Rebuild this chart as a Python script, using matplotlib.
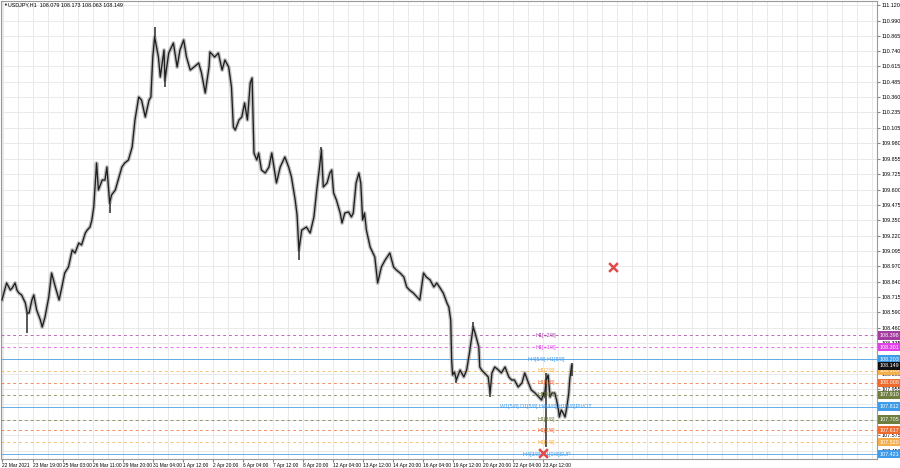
import matplotlib
matplotlib.use("Agg")
import matplotlib.pyplot as plt
import matplotlib.transforms as mtransforms

# USDJPY H1 closes (bar index = hours since first bar)
bars = [0, 3, 5, 9, 11, 14, 16, 18, 21, 25, 27, 29, 32, 34, 37, 41, 43, 46, 50, 53,
        57, 61, 64, 67, 71, 75, 78, 82, 85, 89, 91, 94, 96, 98, 101, 103, 107, 110, 112, 115,
        117, 121, 125, 128, 131, 135, 139, 142, 146, 149, 153, 157, 159, 161, 163, 167, 169, 173, 174, 178,
        183, 187, 190, 194, 197, 201, 205, 210, 213, 217, 221, 222, 227, 231, 235, 238, 242, 245, 247, 249,
        253, 256, 259, 262, 265, 267, 269, 272, 274, 277, 281, 285, 288, 293, 297, 302, 306, 309, 313, 315,
        317, 320, 325, 329, 333, 336, 339, 341, 343, 347, 350, 352, 354, 357, 361, 363, 366, 370, 373, 375,
        378, 381, 383, 385, 387, 389, 393, 396, 398, 401, 405, 409, 414, 418, 421, 425, 429, 432, 435, 439,
        443, 446, 450, 453, 457, 461, 464, 467, 471, 475, 477, 479, 480, 481, 483, 485, 489, 493, 496, 499,
        503, 505, 507, 509, 510, 512, 515, 519, 521, 523, 526, 530, 533, 537, 541, 544, 547, 551, 555, 558,
        562, 565, 569, 573, 576, 578, 579, 581, 583, 585, 587, 590, 592, 594, 595, 597, 599, 601, 603, 605,
        606, 607, 608]
closes = [108.690, 108.772, 108.830, 108.772, 108.789, 108.830, 108.772, 108.748, 108.731, 108.665,
          108.583, 108.583, 108.690, 108.731, 108.608, 108.525, 108.467, 108.550, 108.715, 108.912,
          108.797, 108.690, 108.797, 108.912, 108.962, 109.102, 109.077, 109.159, 109.143, 109.242,
          109.266, 109.291, 109.349, 109.456, 109.818, 109.596, 109.678, 109.678, 109.785, 109.489,
          109.555, 109.596, 109.703, 109.785, 109.818, 109.843, 109.950, 110.173, 110.362, 110.337,
          110.197, 110.337, 110.362, 110.691, 110.856, 110.691, 110.527, 110.749, 110.502, 110.724,
          110.807, 110.609, 110.749, 110.832, 110.691, 110.584, 110.609, 110.642, 110.560, 110.395,
          110.609, 110.733, 110.691, 110.724, 110.584, 110.667, 110.609, 110.444, 110.115, 110.090,
          110.173, 110.197, 110.313, 110.173, 110.477, 110.519, 109.901, 109.843, 109.901, 109.761,
          109.736, 109.785, 109.901, 109.654, 109.785, 109.868, 109.785, 109.703, 109.514, 109.390,
          109.102, 109.266, 109.291, 109.242, 109.374, 109.596, 109.785, 109.925, 109.621, 109.654,
          109.736, 109.761, 109.571, 109.514, 109.407, 109.324, 109.407, 109.415, 109.374, 109.407,
          109.654, 109.736, 109.654, 109.349, 109.407, 109.266, 109.126, 109.077, 109.044, 108.830,
          108.962, 109.019, 109.077, 108.962, 108.937, 108.912, 108.879, 108.797, 108.772, 108.748,
          108.715, 108.690, 108.912, 108.879, 108.855, 108.797, 108.830, 108.797, 108.748, 108.665,
          108.632, 108.525, 108.196, 108.072, 108.097, 108.031, 108.113, 108.056, 108.113, 108.253,
          108.467, 108.418, 108.360, 108.303, 108.138, 108.113, 108.089, 108.056, 107.924, 108.089,
          108.138, 108.113, 108.089, 108.138, 108.056, 108.031, 108.031, 107.973, 108.006, 108.089,
          108.006, 107.949, 107.924, 107.891, 107.866, 107.924, 107.891, 108.031, 108.072, 107.891,
          107.924, 107.924, 107.866, 107.784, 107.726, 107.784, 107.759, 107.726, 107.808, 107.924,
          108.031, 108.089, 108.149]

# visible wicks beyond the close path
wick_bars = [27, 115, 163, 174, 317, 341, 485, 503, 521, 581, 608]
wick_highs = [108.583, 109.489, 110.939, 110.502, 109.102, 109.950, 108.031, 108.509, 107.924, 108.089, 108.173]
wick_lows = [108.418, 109.407, 110.856, 110.444, 109.019, 109.925, 108.006, 108.467, 107.891, 107.479, 108.063]

# Murrey math levels
level_prices = [108.398, 108.301, 108.203, 108.105, 108.008, 107.910, 107.812, 107.705, 107.617, 107.520, 107.421]
level_names = ["H1[+2/8]", "H1[+1/8]", "H4[5/8] H1[8/8]", "H1[7/8]", "H1[6/8]", "H1[5/8]",
               "W1[5/8] D1[5/8] H4[4/8] H1[4/8]PIVOT", "H1[3/8]", "H1[2/8]", "H1[1/8]", "H4[3/8] H1[0/8]SUP"]
level_colors = ["#A23C9E", "#E040E8", "#3D9BEA", "#F5AE4C", "#EE6A2E", "#6E7E3E",
                "#3D9BEA", "#6E7E3E", "#EE6A2E", "#F5AE4C", "#3D9BEA"]
level_solid = [False, False, True, False, False, False, True, False, False, False, True]

current_price = 108.149
cross_bars = [652, 577]
cross_prices = [108.962, 107.430]

price_ticks = [111.120, 110.990, 110.865, 110.740, 110.615, 110.485, 110.360, 110.235, 110.105,
               109.980, 109.855, 109.725, 109.600, 109.475, 109.350, 109.220, 109.095, 108.970,
               108.840, 108.715, 108.590, 108.460, 108.335, 108.205, 108.080, 107.955, 107.830,
               107.700, 107.575, 107.450]
time_labels = ["22 Mar 2021", "23 Mar 19:00", "25 Mar 03:00", "26 Mar 11:00", "29 Mar 20:00",
               "31 Mar 04:00", "1 Apr 12:00", "2 Apr 20:00", "6 Apr 04:00", "7 Apr 12:00",
               "8 Apr 20:00", "12 Apr 04:00", "13 Apr 12:00", "14 Apr 20:00", "16 Apr 04:00",
               "19 Apr 12:00", "20 Apr 20:00", "22 Apr 04:00", "23 Apr 12:00"]

plt.rcParams["font.family"] = ["Liberation Sans", "DejaVu Sans"]
FS = 3.9

fig = plt.figure(figsize=(9, 4.68), dpi=100)
ax = fig.add_axes([1 / 900, 9 / 468, 876 / 900, 458 / 468])
ax.set_xlim(-1, 934)
ax.set_ylim(107.380, 111.153)

# grid
time_pos = [0] + [33 + 32 * i for i in range(len(time_labels) - 1)]
ax.set_xticks(time_pos)
ax.set_xticklabels(time_labels, fontsize=3.5, ha="left")
ax.set_xticks(list(range(1, 934, 16)), minor=True)
ax.tick_params(axis="x", which="major", length=2, pad=0.8, color="#888888")
ax.tick_params(axis="x", which="minor", length=0)

ax.yaxis.tick_right()
ax.set_yticks(price_ticks)
ax.set_yticklabels([f"{p:.3f}" for p in price_ticks], fontsize=FS)
ax.tick_params(axis="y", length=2, pad=1.0, color="#888888")
ax.grid(which="both", color="#e6e6e6", linewidth=0.6)
ax.set_axisbelow(True)
for s in ax.spines.values():
    s.set_color("#9a9a9a")
    s.set_linewidth(0.8)

# level lines
for p, c, solid in zip(level_prices, level_colors, level_solid):
    ax.axhline(p, color=c, linewidth=0.7, alpha=0.8 if solid else 0.75,
               linestyle="-" if solid else (0, (3, 3)), zorder=1)

# price path
ax.plot(bars, closes, color="#8c8c8c", linewidth=2.8, alpha=0.55, zorder=2)
ax.vlines(wick_bars, wick_lows, wick_highs, color="#3a3a3a", linewidth=1.2, zorder=2)
ax.plot(bars, closes, color="#1e1e1e", linewidth=0.95, zorder=3)

# level names in the chart
for p, name, c in zip(level_prices, level_names, level_colors):
    ax.text(581, p, name, color=c, fontsize=FS, ha="center", va="center", zorder=4)

# red crosses
ax.scatter(cross_bars, cross_prices, marker="x", s=40, color="#E24A4A", linewidths=1.8, zorder=5)

# price boxes on the right scale
trans = mtransforms.blended_transform_factory(ax.transAxes, ax.transData)
for p, c in zip(level_prices + [current_price], level_colors + ["#111111"]):
    ax.text(1.0025, p, f"{p:.3f}", transform=trans, fontsize=FS, color="white",
            ha="left", va="center", clip_on=False, zorder=6,
            bbox=dict(boxstyle="square,pad=0.3", facecolor=c, edgecolor="none"))

# header
fig.text(3 / 900, 1 - 5 / 468, "\u25bc", fontsize=2.8, va="center", ha="left")
fig.text(8 / 900, 1 - 5 / 468, "USDJPY,H1  108.079 108.173 108.063 108.149", fontsize=FS,
         va="center", ha="left")

fig.savefig("out.png", dpi=100)
